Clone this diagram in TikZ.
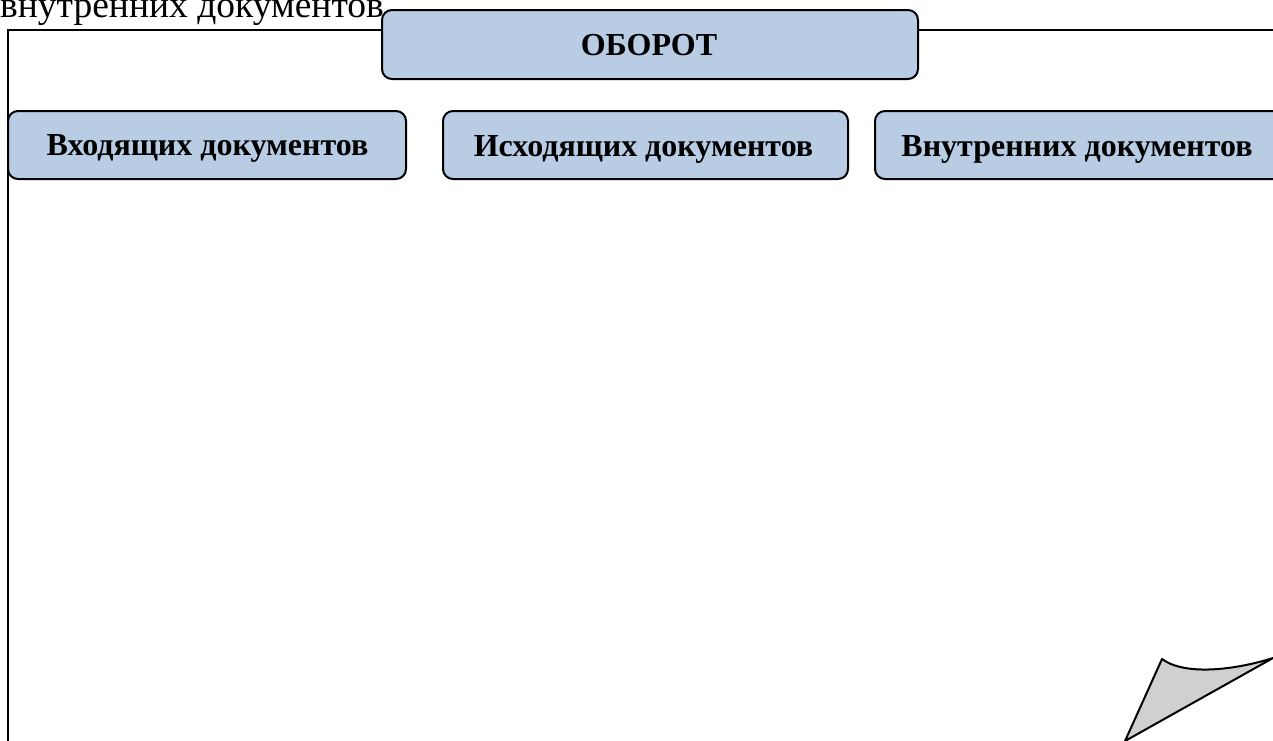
\documentclass[tikz,border=0pt]{standalone}
\usepackage{fontspec}
\setmainfont{Liberation Serif}
\definecolor{boxblue}{HTML}{B8CCE4}
\definecolor{peel}{HTML}{D0D0D0}
\begin{document}
\begin{tikzpicture}[x=1pt,y=-1pt,
  bluebox/.style={draw=black, line width=2pt, fill=boxblue, rounded corners=10pt},
  boxtext/.style={font=\fontsize{32}{36}\selectfont\bfseries, inner sep=0pt, anchor=base},
  frame/.style={line width=2.5pt, draw=black}]
\useasboundingbox (0,0) rectangle (1273,740);
\clip (0,0) rectangle (1273,740);
% top cropped text
\node[anchor=base west, inner sep=0pt, font=\fontsize{37.5}{40}\selectfont] (toptext) at (0,17) {внутренних документов};
% page frame
\coordinate (fTL) at (8,30);
\coordinate (fBL) at (8,745);
\coordinate (fTR) at (1280,30);
\draw[frame] (fBL) -- (fTL) -- (382,30);
\draw[frame] (918,30) -- (fTR);
% boxes
\draw[bluebox] (382,10) rectangle (918,79);
\node[boxtext] (oborot) at (649,55) {ОБОРОТ};
\draw[bluebox] (8,111) rectangle (406,179);
\node[boxtext] (vh) at (207.5,155.5) {Входящих документов};
\draw[bluebox] (443,111) rectangle (848,179);
\node[boxtext] (ish) at (643.5,156) {Исходящих документов};
\draw[bluebox] (875,111) rectangle (1290,179);
\node[boxtext] (vn) at (1077,156) {Внутренних документов};
% peeled corner
\coordinate (pA) at (1162,659);
\coordinate (pB) at (1273,658);
\coordinate (pC) at (1125,741);
\draw[line width=2pt, fill=peel, line join=round] (pC) -- (pA) .. controls (1185,676) and (1235,670) .. (pB) -- cycle;
\end{tikzpicture}
\end{document}
